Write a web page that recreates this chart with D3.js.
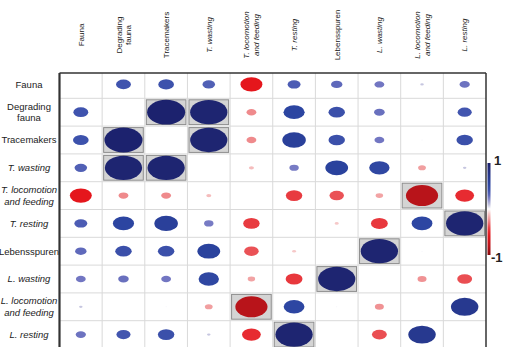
<!DOCTYPE html>
<html lang="en">
<head>
<meta charset="UTF-8">
<title>Correlation matrix</title>
<script src="https://d3js.org/d3.v7.min.js"></script>
<style>
  body { margin: 0; background: #fff; }
  svg { display: block; font-family: "Liberation Sans", Arial, sans-serif; }
</style>
</head>
<body>
<div id="chart"></div>
<script>
// variable names (one entry per line of the label)
const labels = [
  ["Fauna"],
  ["Degrading", "fauna"],
  ["Tracemakers"],
  ["T. wasting"],
  ["T. locomotion", "and feeding"],
  ["T. resting"],
  ["Lebensspuren"],
  ["L. wasting"],
  ["L. locomotion", "and feeding"],
  ["L. resting"]
];

// correlation values (diagonal left empty)
const corr = [
  [null, 0.38, 0.40, 0.32, -0.56, 0.33, 0.29, 0.25, 0.09, 0.26],
  [0.38, null, 0.97, 0.95, -0.25, 0.54, 0.42, 0.27, 0.01, 0.36],
  [0.40, 0.97, null, 0.95, -0.25, 0.60, 0.42, 0.25, 0.03, 0.42],
  [0.32, 0.95, 0.95, null, -0.13, 0.24, 0.58, 0.52, -0.20, 0.09],
  [-0.56, -0.25, -0.25, -0.13, null, -0.42, -0.37, -0.19, -0.82, -0.48],
  [0.33, 0.54, 0.60, 0.24, -0.42, null, -0.10, -0.43, 0.53, 0.95],
  [0.29, 0.42, 0.42, 0.58, -0.37, -0.10, null, 0.95, 0.03, 0.00],
  [0.25, 0.27, 0.25, 0.52, -0.19, -0.43, 0.95, null, -0.23, -0.38],
  [0.09, 0.01, 0.03, -0.20, -0.82, 0.53, 0.03, -0.23, null, 0.70],
  [0.26, 0.36, 0.42, 0.09, -0.48, 0.95, 0.00, -0.38, 0.70, null]
];

// cells highlighted with a grey box
const boxed = [[1, 2], [1, 3], [2, 3], [4, 8], [5, 9], [6, 7]];

const legendTicks = [1, -1];

const width = 505, height = 347;
const n = labels.length;

const svg = d3.select("#chart").append("svg")
  .attr("width", width)
  .attr("height", height);

const x = d3.scaleBand().domain(d3.range(n)).range([59.5, 486]);
const y = d3.scaleBand().domain(d3.range(n)).range([70.5, 348.5]);
const gridTop = 73;

// colour ramp red -> white -> navy
const color = d3.scaleLinear()
  .domain([-1, -0.82, -0.56, -0.42, -0.25, -0.1, 0, 0.1, 0.25, 0.35, 0.55, 0.9, 1])
  .range(["#8a0a0e", "#b8141a", "#e5161c", "#e83b40", "#ef8a8c", "#f6c8c8", "#ffffff",
          "#c0c0dd", "#7276c2", "#4356b0", "#2b44a0", "#222a78", "#1a1f6a"])
  .clamp(true);

const size = d3.scaleLinear().domain([0, 1]).range([0, 0.46]);

// grid
const grid = svg.append("g").attr("stroke", "#d9d9d9").attr("stroke-width", 1);
d3.range(1, n).forEach(i => {
  grid.append("line")
    .attr("x1", x(i)).attr("x2", x(i))
    .attr("y1", gridTop).attr("y2", height);
  grid.append("line")
    .attr("x1", x(0)).attr("x2", x.range()[1])
    .attr("y1", y(i)).attr("y2", y(i));
});

// cells
const cells = [];
corr.forEach((row, i) => row.forEach((v, j) => {
  if (v !== null) cells.push({ i, j, v });
}));

const isBoxed = d => boxed.some(([a, b]) => (a === d.i && b === d.j) || (a === d.j && b === d.i));

svg.append("g").selectAll("rect")
  .data(cells.filter(isBoxed))
  .join("rect")
  .attr("x", d => x(d.j) + 1.5)
  .attr("y", d => y(d.i) + 1.5)
  .attr("width", x.bandwidth() - 3)
  .attr("height", y.bandwidth() - 3)
  .attr("fill", "#d4d4d4")
  .attr("stroke", "#8c8c8c")
  .attr("stroke-width", 1);

svg.append("g").selectAll("ellipse")
  .data(cells)
  .join("ellipse")
  .attr("cx", d => x(d.j) + x.bandwidth() / 2)
  .attr("cy", d => y(d.i) + y.bandwidth() / 2)
  .attr("rx", d => size(Math.abs(d.v)) * x.bandwidth())
  .attr("ry", d => size(Math.abs(d.v)) * y.bandwidth())
  .attr("fill", d => color(d.v));

// frame
const frame = svg.append("g").attr("stroke", "#333").attr("fill", "none");
frame.append("line").attr("x1", x(0)).attr("x2", x.range()[1]).attr("y1", gridTop).attr("y2", gridTop).attr("stroke-width", 1.5);
frame.append("line").attr("x1", x(0)).attr("x2", x(0)).attr("y1", gridTop).attr("y2", height).attr("stroke-width", 2.2);
frame.append("line").attr("x1", x.range()[1]).attr("x2", x.range()[1]).attr("y1", gridTop).attr("y2", height).attr("stroke-width", 1.5);

const italic = l => /^[TL]\. /.test(l[0]);

// row labels
svg.append("g").selectAll("text")
  .data(labels)
  .join("text")
  .attr("text-anchor", "middle")
  .attr("font-size", 9.5)
  .attr("fill", "#222")
  .attr("font-style", d => italic(d) ? "italic" : "normal")
  .each(function (d, i) {
    const cy = y(i) + y.bandwidth() / 2;
    d.forEach((line, k) => {
      d3.select(this).append("tspan")
        .attr("x", 29)
        .attr("y", cy + (k - (d.length - 1) / 2) * 11.5 + 3.4)
        .text(line);
    });
  });

// column labels (rotated)
svg.append("g").selectAll("text")
  .data(labels)
  .join("text")
  .attr("text-anchor", "middle")
  .attr("font-size", 8)
  .attr("fill", "#222")
  .attr("font-style", d => italic(d) ? "italic" : "normal")
  .attr("transform", (d, i) => `translate(${x(i) + x.bandwidth() / 2},35) rotate(-90)`)
  .each(function (d) {
    d.forEach((line, k) => {
      d3.select(this).append("tspan")
        .attr("x", 0)
        .attr("y", (k - (d.length - 1) / 2) * 9.5 + 2.8)
        .text(line);
    });
  });

// colour legend
const ly = d3.scaleLinear().domain([1, -1]).range([163, 255]);
const grad = svg.append("defs").append("linearGradient")
  .attr("id", "cbar").attr("x1", 0).attr("x2", 0).attr("y1", 0).attr("y2", 1);
d3.range(0, 1.0001, 0.05).forEach(t => {
  grad.append("stop").attr("offset", t).attr("stop-color", color(1 - 2 * t));
});
svg.append("rect")
  .attr("x", 487.5).attr("y", ly(1))
  .attr("width", 3).attr("height", ly(-1) - ly(1))
  .attr("fill", "url(#cbar)");

svg.append("g").selectAll("text")
  .data(legendTicks)
  .join("text")
  .attr("x", d => d > 0 ? 494 : 491)
  .attr("y", d => ly(d) + (d > 0 ? 2 : 7))
  .attr("font-size", 13)
  .attr("font-weight", "bold")
  .attr("fill", "#222")
  .text(d => d);
</script>
</body>
</html>
